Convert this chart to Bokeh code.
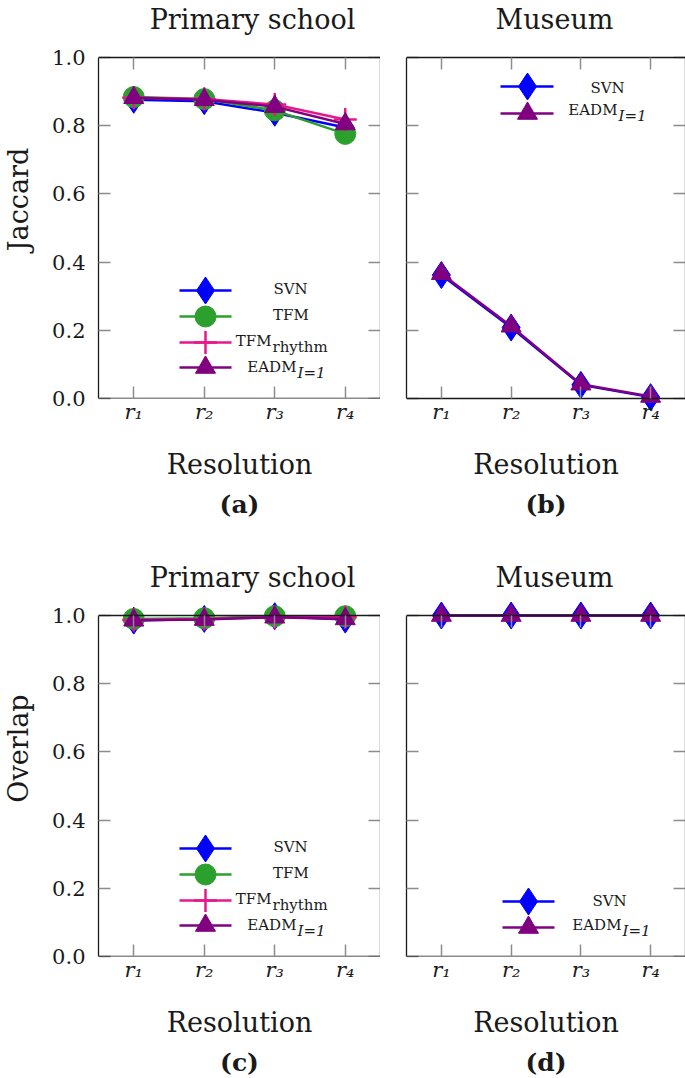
import math
from bokeh.plotting import figure
from bokeh.models import (Range1d, LinearAxis, FixedTicker, CustomJSTickFormatter,
                          PrintfTickFormatter, Label, Title)
from bokeh.layouts import row, column
from bokeh.embed import file_html
from bokeh.resources import INLINE

# ---------------- data ----------------
resolutions = [1, 2, 3, 4]
res_labels = ["r\u2081", "r\u2082", "r\u2083", "r\u2084"]
y_ticks = [0.0, 0.2, 0.4, 0.6, 0.8, 1.0]

jac_school_svn = [0.876, 0.872, 0.838, 0.795]
jac_school_tfm = [0.884, 0.878, 0.845, 0.776]
jac_school_tfmr = [0.882, 0.878, 0.862, 0.818]
jac_school_eadm = [0.882, 0.876, 0.856, 0.805]

jac_museum_svn = [0.362, 0.208, 0.040, 0.004]
jac_museum_eadm = [0.366, 0.212, 0.042, 0.006]

ov_school_svn = [0.985, 0.990, 0.998, 0.988]
ov_school_tfm = [0.990, 0.992, 0.998, 0.998]
ov_school_tfmr = [0.987, 0.990, 0.995, 0.995]
ov_school_eadm = [0.986, 0.988, 0.995, 0.990]

ov_museum_svn = [1.0, 1.0, 1.0, 1.0]
ov_museum_eadm = [1.0, 1.0, 1.0, 1.0]

# ---------------- styles ----------------
STYLE = {
    "SVN": dict(color="#0000ff", marker="diamond", size=27),
    "TFM": dict(color="#2ca02c", marker="circle", size=21),
    "TFMr": dict(color="#e6198c", marker="cross", size=23),
    "EADM": dict(color="#800080", marker="triangle", size=20),
}
FONT = "DejaVu Serif"
INK = "#1a1a1a"


def px2x(cfg, px):
    bl, bt, bw, bh = cfg["box"]
    return 0.5 + (px - bl) * 4.0 / bw


def px2y(cfg, py):
    bl, bt, bw, bh = cfg["box"]
    return (bt + bh - py) / bh


def style_axis(ax):
    ax.axis_line_color = INK
    ax.axis_line_width = 1.3
    ax.major_tick_line_color = "#8c8c8c"
    ax.major_tick_line_width = 1.5
    ax.major_tick_in = 12
    ax.major_tick_out = 0
    ax.minor_tick_line_color = None
    ax.major_label_text_font = FONT
    ax.major_label_text_font_size = "21px"
    ax.major_label_text_color = INK
    ax.axis_label_text_font = FONT
    ax.axis_label_text_font_size = "27px"
    ax.axis_label_text_font_style = "normal"
    ax.axis_label_text_color = INK


def empty_fmt():
    return CustomJSTickFormatter(code="return ''")


def add_label(p, cfg, px, py, text, size, align="center", baseline="middle",
              style="normal"):
    p.add_layout(Label(x=px2x(cfg, px), y=px2y(cfg, py), text=text,
                       text_font=FONT, text_font_size=size, text_font_style=style,
                       text_align=align, text_baseline=baseline, text_color=INK))


def draw_series(p, xs, ys, key):
    st = STYLE[key]
    p.line(xs, ys, line_color=st["color"], line_width=2.5)
    p.scatter(xs, ys, marker=st["marker"], size=st["size"],
              fill_color=st["color"], line_color=st["color"],
              line_width=2.5 if st["marker"] == "cross" else 1)


def make_panel(cfg):
    bl, bt, bw, bh = cfg["box"]
    pt, pb = cfg["pad"]
    mb = cfg["borders"]  # left, bottom
    p = figure(frame_width=bw, frame_height=bh + pt + pb,
               x_range=Range1d(0.5, 4.5), y_range=Range1d(-pb / bh, 1 + pt / bh),
               min_border_left=mb[0], min_border_right=0,
               min_border_top=0, min_border_bottom=mb[1],
               x_axis_location=None, y_axis_location=None, title=None,
               output_backend="svg", toolbar_location=None, tools="")
    p.outline_line_color = None
    p.background_fill_color = "white"
    p.border_fill_color = "white"
    p.grid.visible = False

    # top frame edge with inward ticks
    xt = LinearAxis(fixed_location=1.0, bounds=(0.5, 4.5),
                    ticker=FixedTicker(ticks=resolutions), formatter=empty_fmt())
    style_axis(xt)
    xt.major_label_standoff = 0
    xt.level = "overlay"
    p.add_layout(xt, "above")

    # bottom tick labels + axis label (no line, no ticks)
    xl = LinearAxis(bounds=(0.999, 4.5), ticker=FixedTicker(ticks=resolutions),
                    major_label_overrides=dict(zip(resolutions, res_labels)),
                    axis_label="Resolution")
    style_axis(xl)
    xl.axis_line_color = None
    xl.major_tick_line_color = None
    xl.major_label_text_font_style = "italic"
    xl.major_label_standoff = cfg["xlab_standoff"] - pb
    xl.axis_label_standoff = cfg["xaxis_label_standoff"]
    p.add_layout(xl, "below")

    # caption
    p.add_layout(Title(text=cfg["caption"], align="center", offset=cfg["cap_offset"],
                       standoff=cfg["cap_standoff"], text_font=FONT,
                       text_font_size="25px", text_font_style="bold",
                       text_color=INK), "below")

    # bottom frame edge with inward ticks
    xb = LinearAxis(fixed_location=0, bounds=(0.5, 4.5),
                    ticker=FixedTicker(ticks=resolutions), formatter=empty_fmt())
    style_axis(xb)
    xb.major_label_standoff = 0
    xb.level = "overlay"
    p.add_layout(xb, "below")

    yl = LinearAxis(bounds=(0, 1), ticker=FixedTicker(ticks=y_ticks),
                    formatter=PrintfTickFormatter(format="%.1f") if cfg["ylabels"] else empty_fmt())
    style_axis(yl)
    yl.major_label_standoff = 13 if cfg["ylabels"] else 0
    if cfg.get("ylabel"):
        yl.axis_label = cfg["ylabel"]
        yl.axis_label_standoff = 15
    p.add_layout(yl, "left")

    yr = LinearAxis(fixed_location=4.5, bounds=(0, 1), ticker=FixedTicker(ticks=y_ticks),
                    formatter=empty_fmt())
    style_axis(yr)
    yr.major_label_standoff = 0
    p.add_layout(yr, "right")

    for key, vals in cfg["series"]:
        draw_series(p, resolutions, vals, key)

    # legend (keys + texts)
    leg = cfg["legend"]
    for key, dy in zip(leg["keys"], leg["rows"]):
        st = STYLE[key]
        yk = px2y(cfg, bt + dy)
        p.line([px2x(cfg, bl + leg["x0"]), px2x(cfg, bl + leg["x1"])], [yk, yk],
               line_color=st["color"], line_width=2.5)
        p.scatter([px2x(cfg, bl + leg["xm"])], [yk], marker=st["marker"], size=st["size"],
                  fill_color=st["color"], line_color=st["color"],
                  line_width=2.5 if st["marker"] == "cross" else 1)
    for dx, dy, txt, align, fstyle, size in leg["texts"]:
        add_label(p, cfg, bl + dx, bt + dy, txt, size, align=align, style=fstyle)

    # panel title (inside the padded frame area above the box)
    tx, ty = cfg["title_pos"]
    add_label(p, cfg, tx, ty, cfg["title"], "27px")
    return p


LEG4 = dict(keys=["SVN", "TFM", "TFMr", "EADM"], x0=81, x1=133, xm=107,
            rows=[233, 259, 285, 310],
            texts=[(192, 231, "SVN", "center", "normal", "15px"),
                   (192.5, 257, "TFM", "center", "normal", "15px"),
                   (173, 283, "TFM", "right", "normal", "15px"),
                   (174, 289, "rhythm", "left", "normal", "15px"),
                   (198, 309, "EADM", "right", "normal", "15px"),
                   (199, 315, "I=1", "left", "italic", "15px")])
LEG2_TOP = dict(keys=["SVN", "EADM"], x0=94, x1=147, xm=121, rows=[29, 56],
                texts=[(201, 30, "SVN", "center", "normal", "15px"),
                       (211, 52, "EADM", "right", "normal", "15px"),
                       (212, 58, "I=1", "left", "italic", "15px")])
LEG2_BOT = dict(keys=["SVN", "EADM"], x0=96, x1=148, xm=122, rows=[286, 312],
                texts=[(203, 285, "SVN", "center", "normal", "15px"),
                       (215, 309, "EADM", "right", "normal", "15px"),
                       (216, 315, "I=1", "left", "italic", "15px")])

common = dict(xlab_standoff=1, xaxis_label_standoff=22, cap_standoff=10)

cfgA = dict(common, box=(96, 57, 282, 341), pad=(57, 0), borders=(96, 142),
            ylabels=True,
            series=[("SVN", jac_school_svn), ("TFM", jac_school_tfm),
                    ("TFMr", jac_school_tfmr), ("EADM", jac_school_eadm)],
            legend=LEG4, title="Primary school", title_pos=(250, 19),
            caption="(a)", cap_offset=9, ylabel="Jaccard")
cfgB = dict(common, box=(404, 57, 279, 341), pad=(57, 14), borders=(26, 128),
            ylabels=False,
            series=[("SVN", jac_museum_svn), ("EADM", jac_museum_eadm)],
            legend=LEG2_TOP, title="Museum", title_pos=(552, 19),
            caption="(b)", cap_offset=12)
cfgC = dict(common, box=(96, 615, 282, 341), pad=(75, 0), borders=(96, 122),
            ylabels=True,
            series=[("SVN", ov_school_svn), ("TFM", ov_school_tfm),
                    ("TFMr", ov_school_tfmr), ("EADM", ov_school_eadm)],
            legend=LEG4, title="Primary school", title_pos=(250, 577),
            caption="(c)", cap_offset=9, ylabel="Overlap")
cfgD = dict(common, box=(404, 615, 279, 341), pad=(75, 0), borders=(26, 122),
            ylabels=False,
            series=[("SVN", ov_museum_svn), ("EADM", ov_museum_eadm)],
            legend=LEG2_BOT, title="Museum", title_pos=(552, 577),
            caption="(d)", cap_offset=12)

layout = column(row(make_panel(cfgA), make_panel(cfgB)),
                row(make_panel(cfgC), make_panel(cfgD)))

open("out.html", "w").write(file_html(layout, INLINE))
